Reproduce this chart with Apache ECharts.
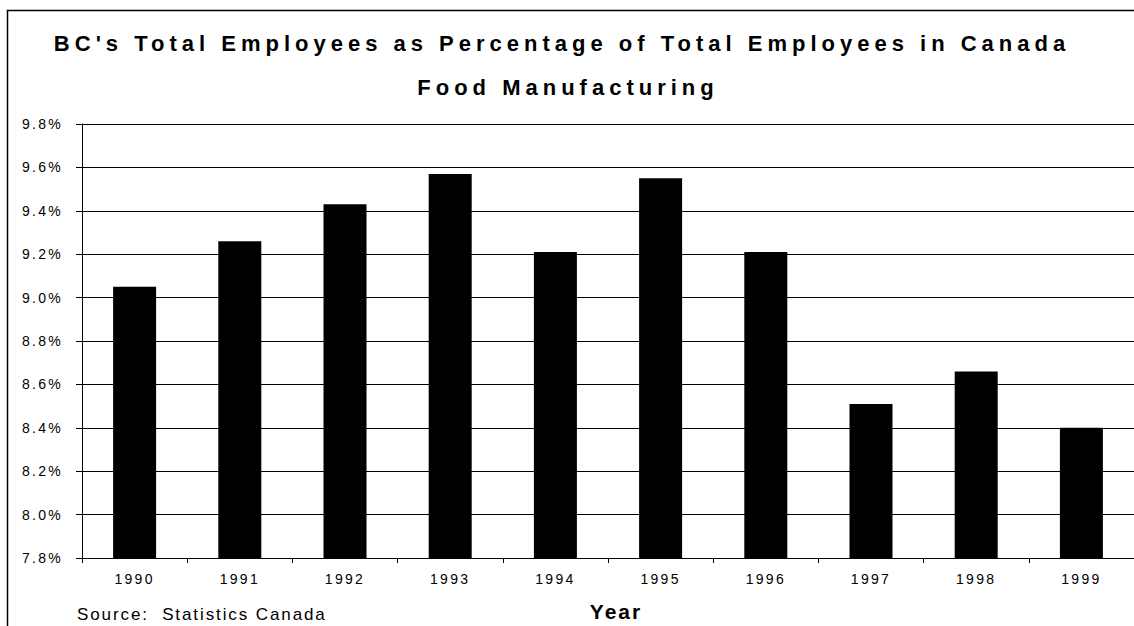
<!DOCTYPE html>
<html>
<head>
<meta charset="utf-8">
<title>BC Food Manufacturing Employees</title>
<script src="https://cdn.jsdelivr.net/npm/echarts@6/dist/echarts.min.js"></script>
<style>
  html, body { margin: 0; padding: 0; background: #fff; }
  #main { width: 1134px; height: 626px; }
  /* the original chart uses widely spaced lettering */
  #main text { letter-spacing: 2.3px; }
  #main text[style*="22px"] { letter-spacing: 5px; }
  #main text[style*="21px"] { letter-spacing: 2px; }
  #main text[style*="17px"] { letter-spacing: 1.9px; }
</style>
</head>
<body>
<div id="main"></div>
<script>
// years on the x axis
const years = ['1990', '1991', '1992', '1993', '1994', '1995', '1996', '1997', '1998', '1999'];
// BC share of Canadian food manufacturing employees, in %
const bcShare = [9.05, 9.26, 9.43, 9.57, 9.21, 9.55, 9.21, 8.51, 8.66, 8.40];
// y axis range and step
const yMin = 7.8;
const yMax = 9.8;
const yStep = 0.2;

const titleLines = ["BC's Total Employees as Percentage of Total Employees in Canada", 'Food Manufacturing'];
const xTitle = 'Year';
const sourceNote = 'Source:  Statistics Canada';

const font = 'Liberation Sans';

const chart = echarts.init(document.getElementById('main'), null, { renderer: 'svg' });

const option = {
  animation: false,
  backgroundColor: '#fff',
  grid: { left: 82, top: 124, width: 1054, height: 434 },
  xAxis: {
    type: 'category',
    data: years,
    boundaryGap: true,
    axisLine: { lineStyle: { color: '#000', width: 1 } },
    axisTick: { show: true, length: 5, lineStyle: { color: '#000' } },
    axisLabel: { color: '#000', fontFamily: font, fontSize: 14, margin: 14 },
    splitLine: { show: false }
  },
  yAxis: {
    type: 'value',
    min: yMin,
    max: yMax,
    interval: yStep,
    axisLine: { show: true, lineStyle: { color: '#000', width: 1 } },
    axisTick: { show: true, length: 6, lineStyle: { color: '#000' } },
    axisLabel: {
      color: '#000', fontFamily: font, fontSize: 14, margin: 19,
      formatter: v => v.toFixed(1) + '%'
    },
    splitLine: { show: true, lineStyle: { color: '#000', width: 1 } }
  },
  series: [{
    type: 'bar',
    data: bcShare,
    barWidth: 43,
    itemStyle: { color: '#000' }
  }],
  graphic: [
    {
      // chart frame (runs off the right and bottom edges)
      type: 'rect',
      shape: { x: 7.5, y: 10.5, width: 1200, height: 700 },
      style: { fill: 'none', stroke: '#000', lineWidth: 1.5 },
      silent: true
    },
    {
      type: 'text', x: 562, y: 43,
      style: { text: titleLines[0], fontFamily: font, fontSize: 22, fontWeight: 'bold', fill: '#000', align: 'center', verticalAlign: 'middle' }
    },
    {
      type: 'text', x: 568, y: 87,
      style: { text: titleLines[1], fontFamily: font, fontSize: 22, fontWeight: 'bold', fill: '#000', align: 'center', verticalAlign: 'middle' }
    },
    {
      type: 'text', x: 616, y: 611,
      style: { text: xTitle, fontFamily: font, fontSize: 21, fontWeight: 'bold', fill: '#000', align: 'center', verticalAlign: 'middle' }
    },
    {
      type: 'text', x: 77, y: 614,
      style: { text: sourceNote, fontFamily: font, fontSize: 17, fill: '#000', align: 'left', verticalAlign: 'middle' }
    }
  ]
};

chart.setOption(option);
</script>
</body>
</html>
